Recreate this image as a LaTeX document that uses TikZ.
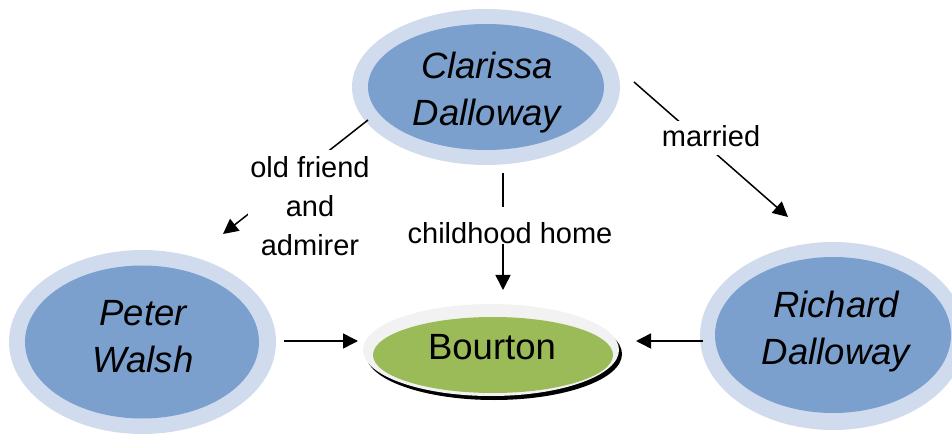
\documentclass[tikz,border=0pt]{standalone}
\usepackage{fontspec}
\setmainfont{Liberation Sans}
\usetikzlibrary{arrows.meta,shapes.geometric}
\definecolor{outerblue}{HTML}{D0DCEE}
\definecolor{innerblue}{HTML}{7BA0CD}
\definecolor{bgreen}{HTML}{9BBB59}
\definecolor{ringgray}{HTML}{F2F2F2}
\begin{document}
\begin{tikzpicture}[x=1pt,y=-1pt,
  outerell/.style={ellipse, fill=outerblue, inner sep=0pt},
  innerell/.style={ellipse, fill=innerblue, inner sep=0pt},
  person/.style={font=\fontsize{36.5}{47}\selectfont\itshape, align=center, inner sep=0pt},
  lbl/.style={font=\fontsize{29}{39}\selectfont, align=center, fill=white, inner xsep=2pt, inner ysep=0pt},
  arr/.style={line width=1.5pt, -{Triangle[length=15pt,width=15pt]}}]
\useasboundingbox (0,0) rectangle (952,435);
% Clarissa Dalloway
\node[outerell, minimum width=268pt, minimum height=156pt] (clo) at (486,87) {};
\node[innerell, minimum width=236pt, minimum height=126pt] (cli) at (486,87) {};
\node[person] (cl) at (487,93) {Clarissa\\Dalloway};
% Peter Walsh
\node[outerell, minimum width=267pt, minimum height=184pt] (pwo) at (142.5,342) {};
\node[innerell, minimum width=234pt, minimum height=153pt] (pwi) at (142,342) {};
\node[person] (pw) at (143,337) {Peter\\Walsh};
% Richard Dalloway
\node[outerell, minimum width=266pt, minimum height=188pt] (rdo) at (833,336) {};
\node[innerell, minimum width=236pt, minimum height=156pt] (rdi) at (833,335) {};
\node[person] (rd) at (836,332) {Richard\\Dalloway};
% Bourton
\fill[black] (494,354) ellipse [x radius=128, y radius=46];
\node[ellipse, fill=ringgray, inner sep=0pt, minimum width=256pt, minimum height=92pt] (boo) at (491,350) {};
\node[ellipse, fill=bgreen, inner sep=0pt, minimum width=240pt, minimum height=76pt] (boi) at (493,355) {};
\node[font=\fontsize{36.5}{42}\selectfont, inner sep=0pt] (bo) at (492,347) {Bourton};
% connector end points
\coordinate (a1s) at (368,120); \coordinate (a1e) at (223,234);
\coordinate (a2s) at (634,82);  \coordinate (a2e) at (788,217);
\coordinate (a3s) at (503,173); \coordinate (a3e) at (503,290);
\coordinate (a4s) at (284,341); \coordinate (a4e) at (358,341);
\coordinate (a5s) at (703,341); \coordinate (a5e) at (636,341);
\draw[arr] (a1s) -- (a1e);
\draw[arr] (a2s) -- (a2e);
\draw[arr] (a3s) -- (a3e);
\draw[arr] (a4s) -- (a4e);
\draw[arr] (a5s) -- (a5e);
% labels (white boxes interrupt the connectors)
\node[lbl, inner ysep=7pt, anchor=base] (l1) at (310,256) {old friend\\and\\admirer};
\node[lbl, text height=26pt, text depth=8pt, anchor=base] (l2) at (711,147) {married};
\node[lbl, text height=37pt, text depth=0pt, anchor=base] (l3) at (510,244) {childhood home};
\end{tikzpicture}
\end{document}
